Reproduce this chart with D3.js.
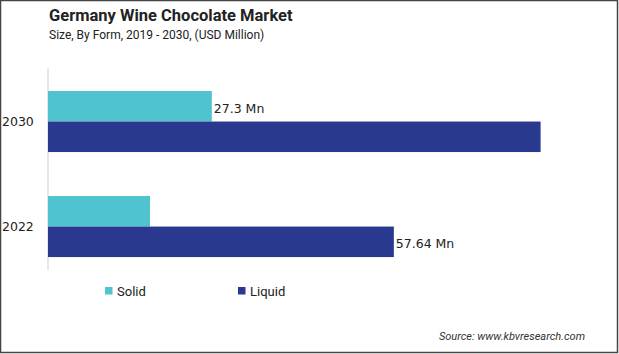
<!DOCTYPE html>
<html>
<head>
<meta charset="utf-8">
<script src="https://cdn.jsdelivr.net/npm/d3@7"></script>
<style>
  body { margin: 0; background: #fff; }
  svg { display: block; font-family: 'DejaVu Sans', sans-serif; }
</style>
</head>
<body>
<script>
// data
const years = ['2030', '2022'];
const series = ['Solid', 'Liquid'];
const solid = [27.3, 17.0];
const liquid = [82.1, 57.64];
const labels = [['27.3 Mn', null], [null, '57.64 Mn']]; // per year: [solid, liquid]
const colors = ['#4fc3cf', '#2a3990'];

const width = 619, height = 354;
const svg = d3.select('body').append('svg').attr('width', width).attr('height', height);

// frame
svg.append('rect')
  .attr('x', 0.5).attr('y', 0.5)
  .attr('width', 617).attr('height', 352)
  .attr('fill', 'none').attr('stroke', '#444').attr('stroke-width', 1.5);

// title
svg.append('text').attr('x', 49).attr('y', 21)
  .style('font-family', 'Roboto, sans-serif')
  .style('font-size', '16.5px').style('font-weight', 'bold').attr('fill', '#222')
  .text('Germany Wine Chocolate Market');
svg.append('text').attr('x', 49).attr('y', 39)
  .style('font-family', 'Roboto, sans-serif')
  .style('font-size', '12px').attr('fill', '#222')
  .text('Size, By Form, 2019 - 2030, (USD Million)');

// scales
let x = d3.scaleLinear().domain([0, 100]).range([48, 648]);
let y = d3.scaleBand().domain(years).range([69.5, 278.6]).paddingInner(0.419).paddingOuter(0.205);
let sub = d3.scaleBand().domain(series).range([0, y.bandwidth()]);

// axis line
svg.append('line')
  .attr('x1', 48).attr('x2', 48).attr('y1', 68).attr('y2', 270)
  .attr('stroke', '#d0d0d0').attr('stroke-width', 1);

// year labels
svg.selectAll('.yl').data(years).enter().append('text')
  .attr('class', 'yl')
  .attr('x', 2)
  .attr('y', d => y(d) + y.bandwidth() / 2)
  .attr('dy', '0.35em')
  .style('font-size', '12.5px').attr('fill', '#222')
  .text(d => d);

// bars
const rows = years.map((yr, i) => ({ year: yr, values: [solid[i], liquid[i]], labels: labels[i] }));
const g = svg.selectAll('.grp').data(rows).enter().append('g')
  .attr('transform', d => `translate(0,${y(d.year)})`);

g.selectAll('rect').data(d => series.map((s, j) => ({ s, v: d.values[j], c: colors[j], label: d.labels[j] })))
  .enter().append('rect')
  .attr('x', x(0))
  .attr('y', d => sub(d.s))
  .attr('width', d => x(d.v) - x(0))
  .attr('height', sub.bandwidth())
  .attr('fill', d => d.c);

g.selectAll('.vl').data(d => series.map((s, j) => ({ s, v: d.values[j], label: d.labels[j] })).filter(d => d.label))
  .enter().append('text')
  .attr('class', 'vl')
  .attr('x', d => x(d.v) + 2)
  .attr('y', d => sub(d.s) + sub.bandwidth() / 2 + 2)
  .attr('dy', '0.35em')
  .style('font-size', '12.5px').attr('fill', '#222')
  .text(d => d.label);

// legend
const leg = svg.selectAll('.leg').data(series).enter().append('g')
  .attr('transform', (d, i) => `translate(${105 + i * 133},287)`);
leg.append('rect').attr('width', 7.5).attr('height', 7.5).attr('fill', (d, i) => colors[i]);
leg.append('text').attr('x', 12).attr('y', 4).attr('dy', '0.35em')
  .style('font-family', 'Roboto, sans-serif')
  .style('font-size', '13px').attr('fill', '#222').text(d => d);

// source
svg.append('text').attr('x', 585).attr('y', 340).attr('text-anchor', 'end')
  .style('font-family', 'Roboto, sans-serif')
  .style('font-size', '11px').style('font-style', 'italic').attr('fill', '#333')
  .text('Source: www.kbvresearch.com');
</script>
</body>
</html>
